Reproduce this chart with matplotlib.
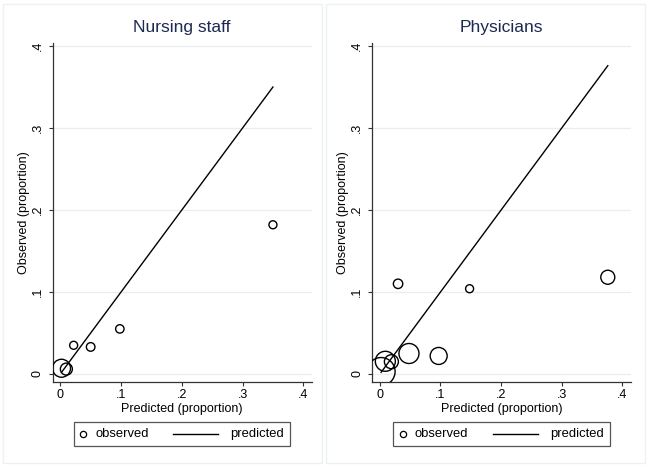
import matplotlib
matplotlib.use("Agg")
import matplotlib.pyplot as plt
from matplotlib.lines import Line2D
from matplotlib.patches import Rectangle
import numpy as np

plt.rcParams['font.family'] = ['Liberation Sans', 'DejaVu Sans']

# ---- data ----
nurse_pred = [0.002, 0.010, 0.022, 0.050, 0.098, 0.350]
nurse_obs = [0.007, 0.006, 0.035, 0.033, 0.055, 0.182]
nurse_weight = [9.0, 6.0, 4.0, 4.3, 4.2, 4.0]

phys_pred = [0.002, 0.009, 0.019, 0.048, 0.097, 0.030, 0.148, 0.376]
phys_obs = [0.003, 0.0155, 0.015, 0.025, 0.022, 0.110, 0.104, 0.118]
phys_weight = [14.0, 10.0, 7.0, 10.0, 8.5, 4.7, 4.0, 7.0]

titles = ["Nursing staff", "Physicians"]
ticks = [0, 0.1, 0.2, 0.3, 0.4]
tick_labels = ["0", ".1", ".2", ".3", ".4"]
xlabel = "Predicted (proportion)"
ylabel = "Observed (proportion)"
legend_labels = ["observed", "predicted"]

W, H = 648, 467
fig = plt.figure(figsize=(W / 100, H / 100), dpi=100)
fig.patch.set_facecolor('white')

# faint panel borders
for (x0, x1) in [(3, 322), (326, 645)]:
    fig.patches.append(Rectangle((x0 / W, 4 / H), (x1 - x0) / W, (463 - 4) / H,
                                 transform=fig.transFigure, fill=False,
                                 edgecolor='#eef1f1', linewidth=1.0))

panels = [
    (nurse_pred, nurse_obs, nurse_weight, (52.7, 311.7)),
    (phys_pred, phys_obs, phys_weight, (372.3, 630.7)),
]

top, bot = 43.0, 381.7
for i, (pred, obs, wt, (xl, xr)) in enumerate(panels):
    aw, ah = xr - xl, bot - top
    ax = fig.add_axes([xl / W, 1 - bot / H, aw / W, ah / H])
    ax.set_xlim(-0.0125, 0.4138)
    ax.set_ylim(-0.0094, 0.4037)
    for s in ['top', 'right']:
        ax.spines[s].set_visible(False)
    for s in ['left', 'bottom']:
        ax.spines[s].set_color('#333333')
        ax.spines[s].set_linewidth(0.9)
    ax.set_xticks(ticks)
    ax.set_xticklabels(tick_labels)
    ax.set_yticks(ticks)
    ax.set_yticklabels(tick_labels, rotation=90, va='center')
    ax.tick_params(axis='both', direction='out', length=3, width=0.8,
                   color='#333333', labelsize=9, labelcolor='black')
    ax.tick_params(axis='y', pad=3.5)
    ax.tick_params(axis='x', pad=2.5)
    ax.yaxis.grid(True, color='#e8eded', linewidth=0.9)
    ax.set_axisbelow(True)

    sizes = [(1.44 * r) ** 2 for r in wt]
    ax.scatter(pred, obs, s=sizes, facecolors='none', edgecolors='black',
               linewidths=1.0, zorder=3)
    p = np.array(pred)
    ax.plot([p.min(), p.max()], [p.min(), p.max()], color='black',
            linewidth=1.0, zorder=4)

    ax.set_title(titles[i], fontsize=12.5, color='#1c2a52', pad=8)
    ax.set_xlabel(xlabel, fontsize=9, labelpad=1.5)
    ax.set_ylabel(ylabel, fontsize=9, labelpad=1.5)

    # legend box (drawn in axes coordinates, pixel offsets from axes corner)
    def fx(px):
        return px / aw

    def fy(py):
        return (bot - py) / ah

    ly0, ly1 = 422.0, 446.0
    lyc = (ly0 + ly1) / 2
    ax.add_patch(Rectangle((fx(21), fy(ly1)), fx(237.3) - fx(21), fy(ly0) - fy(ly1),
                           transform=ax.transAxes, fill=False, edgecolor='#555555',
                           linewidth=0.9, clip_on=False))
    ax.add_line(Line2D([fx(30.6)], [fy(lyc)], marker='o', linestyle='none',
                       markerfacecolor='none', markeredgecolor='black',
                       markersize=4.5, markeredgewidth=0.9,
                       transform=ax.transAxes, clip_on=False))
    ax.text(fx(42.5), fy(lyc), legend_labels[0], transform=ax.transAxes,
            fontsize=9.4, va='center', ha='left', clip_on=False)
    ax.add_line(Line2D([fx(120.5), fx(165.5)], [fy(lyc), fy(lyc)], color='black',
                       linewidth=1.0, transform=ax.transAxes, clip_on=False))
    ax.text(fx(177.5), fy(lyc), legend_labels[1], transform=ax.transAxes,
            fontsize=9.4, va='center', ha='left', clip_on=False)

fig.savefig('out.png', dpi=100, facecolor='white')
